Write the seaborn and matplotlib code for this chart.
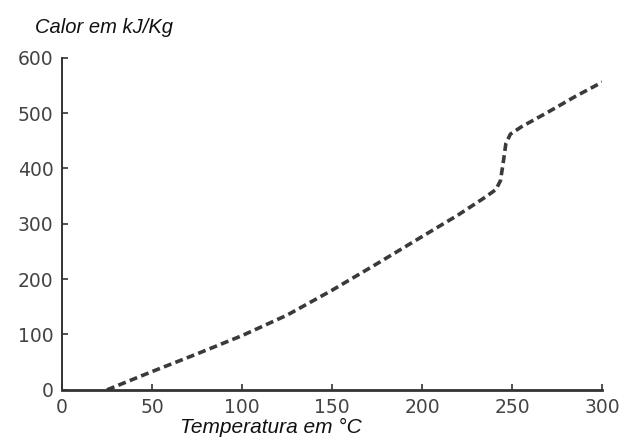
import matplotlib
matplotlib.use("Agg")
import matplotlib.pyplot as plt
import seaborn as sns

# temperature (C) and heat (kJ/Kg)
temperatura = [25, 50, 75, 100, 125, 150, 175, 200, 220, 235, 241, 243.5, 245, 246.5, 249, 255, 270, 285, 300]
calor = [0, 33, 65, 98, 135, 180, 228, 277, 316, 348, 362, 378, 410, 445, 462, 475, 502, 530, 556]

x_ticks = [0, 50, 100, 150, 200, 250, 300]
y_ticks = [0, 100, 200, 300, 400, 500, 600]

sns.set_style("ticks")

fig = plt.figure(figsize=(6.26, 4.41), dpi=100)
ax = fig.add_axes([0.099, 0.116, 0.863, 0.753])

sns.lineplot(x=temperatura, y=calor, ax=ax, color="#3a3a3a", linewidth=2.6,
             linestyle=(0, (2.2, 1.2)), sort=False)

ax.set_xlim(0, 300)
ax.set_ylim(0, 600)
ax.set_xticks(x_ticks)
ax.set_yticks(y_ticks)
ax.tick_params(axis="both", direction="in", length=4, width=1.2, colors="#333333",
               labelsize=13.5, labelcolor="#444444", pad=6)
for lab in ax.get_xticklabels() + ax.get_yticklabels():
    lab.set_fontfamily("DejaVu Sans")

sns.despine(ax=ax)
ax.spines["left"].set_linewidth(1.4)
ax.spines["bottom"].set_linewidth(2.0)
ax.spines["left"].set_color("#333333")
ax.spines["bottom"].set_color("#333333")

fig.text(0.056, 0.937, "Calor em kJ/Kg", fontsize=14.5, style="italic",
         family="Liberation Sans", color="#111111", va="center", ha="left")
fig.text(0.433, 0.03, "Temperatura em \u00b0C", fontsize=15, style="italic",
         family="Liberation Sans", color="#111111", va="center", ha="center")

fig.savefig("out.png", dpi=100)
